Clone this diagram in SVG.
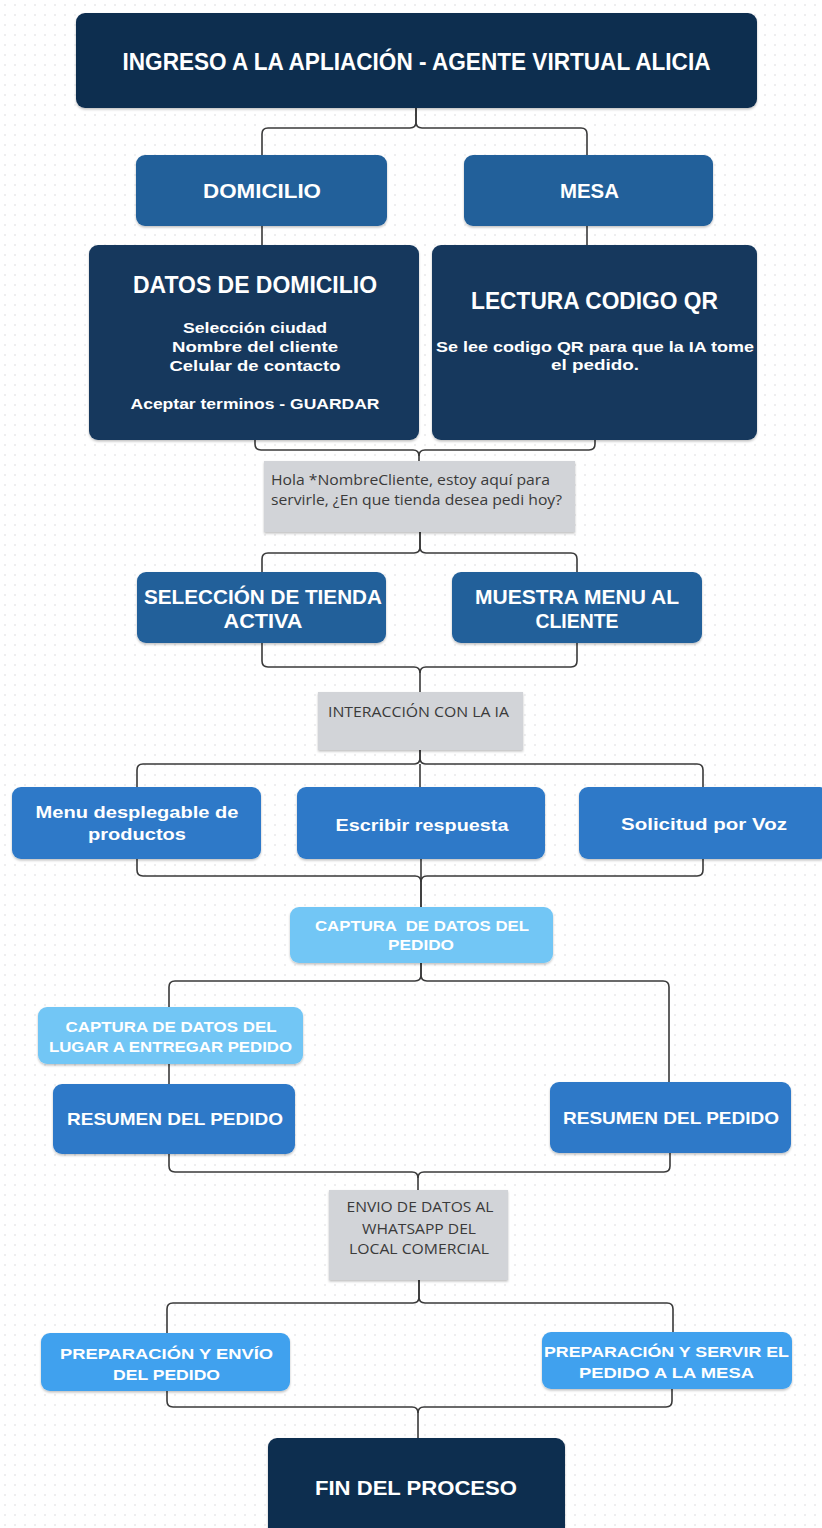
<svg xmlns="http://www.w3.org/2000/svg" width="822" height="1528" viewBox="0 0 822 1528">
<defs>
<pattern id="dots" x="0" y="0" width="10" height="10" patternUnits="userSpaceOnUse">
<circle cx="5" cy="5" r="0.9" fill="#e6e6e8"/>
</pattern>
<filter id="sh" x="-5%" y="-5%" width="110%" height="115%">
<feDropShadow dx="0" dy="1.5" stdDeviation="1.2" flood-color="#000" flood-opacity="0.25"/>
</filter>
</defs>
<style>
.navy{fill:#112f50;}
.navy2{fill:#15385d;}
.mid{fill:#22609a;}
.blue{fill:#2d79c8;}
.light{fill:#72c6f5;}
.bright{fill:#40a1ee;}
.sticky{fill:#d2d4d8;}
.h{font-family:"Liberation Sans",Arial,sans-serif;font-weight:bold;fill:#ffffff;text-anchor:middle;}
.b{font-family:"Liberation Sans",Arial,sans-serif;font-weight:bold;fill:#ffffff;text-anchor:middle;}
.s{font-family:"Open Sans","Liberation Sans",sans-serif;fill:#3a3a3a;}
.c{fill:none;stroke:#3a3a3a;stroke-width:1.6;}
.pre{white-space:pre;}
</style>
<rect width="822" height="1528" fill="#ffffff"/>
<rect width="822" height="1528" fill="url(#dots)"/>

<g id="connectors">
<path class="c" d="M416,108 V122 Q416,128 410,128 H268 Q262,128 262,134 V155"/>
<path class="c" d="M416,108 V122 Q416,128 422,128 H581 Q587,128 587,134 V155"/>
<path class="c" d="M262,226 V252 Q262,256 258,256 Q256,256 256,253"/>
<path class="c" d="M587,226 V246"/>
<path class="c" d="M255,440 V444 Q255,450 261,450 H413 Q419,450 419,456 V462"/>
<path class="c" d="M595,440 V444 Q595,450 589,450 H425 Q419,450 419,456"/>
<path class="c" d="M420,532 V547 Q420,553 414,553 H268 Q262,553 262,559 V572"/>
<path class="c" d="M420,532 V547 Q420,553 426,553 H571 Q577,553 577,559 V572"/>
<path class="c" d="M262,643 V661 Q262,667 268,667 H414 Q420,667 420,673 V693"/>
<path class="c" d="M577,643 V661 Q577,667 571,667 H426 Q420,667 420,673"/>
<path class="c" d="M420,750 V758 Q420,764 414,764 H143 Q137,764 137,770 V787"/>
<path class="c" d="M420,750 V758 Q420,764 426,764 H697 Q703,764 703,770 V787"/>
<path class="c" d="M420,764 V787"/>
<path class="c" d="M137,859 V870 Q137,876 143,876 H415 Q421,876 421,882 V907"/>
<path class="c" d="M703,859 V870 Q703,876 697,876 H427 Q421,876 421,882"/>
<path class="c" d="M421,859 V907"/>
<path class="c" d="M421,963 V975 Q421,981 415,981 H175 Q169,981 169,987 V1007"/>
<path class="c" d="M421,963 V975 Q421,981 427,981 H663 Q669,981 669,987 V1082"/>
<path class="c" d="M169,1064 V1084"/>
<path class="c" d="M169,1154 V1166 Q169,1172 175,1172 H412 Q418,1172 418,1178 V1190"/>
<path class="c" d="M670,1153 V1166 Q670,1172 664,1172 H424 Q418,1172 418,1178"/>
<path class="c" d="M419,1280 V1297 Q419,1303 413,1303 H173 Q167,1303 167,1309 V1333"/>
<path class="c" d="M419,1280 V1297 Q419,1303 425,1303 H667 Q673,1303 673,1309 V1332"/>
<path class="c" d="M167,1391 V1401 Q167,1407 173,1407 H412 Q418,1407 418,1413 V1438"/>
<path class="c" d="M672,1389 V1401 Q672,1407 666,1407 H424 Q418,1407 418,1413"/>
</g>

<g id="n-ingreso">
<rect class="navy" x="76" y="13" width="681" height="95" rx="9" filter="url(#sh)"/>
<text class="h" x="416.5" y="70" font-size="23" textLength="588" lengthAdjust="spacingAndGlyphs">INGRESO A LA APLIACIÓN - AGENTE VIRTUAL ALICIA</text>
</g>

<g id="n-domicilio">
<rect class="mid" x="136" y="155" width="251" height="71" rx="9" filter="url(#sh)"/>
<text class="h" x="262" y="198" font-size="20" textLength="118" lengthAdjust="spacingAndGlyphs">DOMICILIO</text>
</g>

<g id="n-mesa">
<rect class="mid" x="464" y="155" width="249" height="71" rx="9" filter="url(#sh)"/>
<text class="h" x="589.5" y="198" font-size="20" textLength="59" lengthAdjust="spacingAndGlyphs">MESA</text>
</g>

<g id="n-datos">
<rect class="navy2" x="89" y="245" width="330" height="195" rx="9" filter="url(#sh)"/>
<text class="h" x="255" y="293" font-size="23" textLength="244" lengthAdjust="spacingAndGlyphs">DATOS DE DOMICILIO</text>
<text class="b" x="255" y="333" font-size="15" textLength="144" lengthAdjust="spacingAndGlyphs">Selección ciudad</text>
<text class="b" x="255" y="352" font-size="15" textLength="166" lengthAdjust="spacingAndGlyphs">Nombre del cliente</text>
<text class="b" x="255" y="371" font-size="15" textLength="171" lengthAdjust="spacingAndGlyphs">Celular de contacto</text>
<text class="b" x="255" y="409" font-size="15" textLength="249" lengthAdjust="spacingAndGlyphs">Aceptar terminos - GUARDAR</text>
</g>

<g id="n-lectura">
<rect class="navy2" x="432" y="245" width="325" height="195" rx="9" filter="url(#sh)"/>
<text class="h" x="594.5" y="309" font-size="23" textLength="247" lengthAdjust="spacingAndGlyphs">LECTURA CODIGO QR</text>
<text class="b" x="595" y="352" font-size="15" textLength="318" lengthAdjust="spacingAndGlyphs">Se lee codigo QR para que la IA tome</text>
<text class="b" x="595" y="370" font-size="15" textLength="88" lengthAdjust="spacingAndGlyphs">el pedido.</text>
</g>

<g id="n-hola">
<rect class="sticky" x="264" y="461" width="311" height="71" filter="url(#sh)"/>
<text class="s" x="271" y="485" font-size="14" textLength="279" lengthAdjust="spacingAndGlyphs">Hola *NombreCliente, estoy aquí para</text>
<text class="s" x="271" y="505" font-size="14" textLength="291" lengthAdjust="spacingAndGlyphs">servirle, ¿En que tienda desea pedi hoy?</text>
</g>

<g id="n-seleccion">
<rect class="mid" x="137" y="572" width="249" height="71" rx="9" filter="url(#sh)"/>
<text class="h" x="263" y="604" font-size="20" textLength="238" lengthAdjust="spacingAndGlyphs">SELECCIÓN DE TIENDA</text>
<text class="h" x="263" y="628" font-size="20" textLength="79" lengthAdjust="spacingAndGlyphs">ACTIVA</text>
</g>

<g id="n-muestra">
<rect class="mid" x="452" y="572" width="250" height="71" rx="9" filter="url(#sh)"/>
<text class="h" x="577" y="604" font-size="20" textLength="204" lengthAdjust="spacingAndGlyphs">MUESTRA MENU AL</text>
<text class="h" x="577" y="628" font-size="20" textLength="83" lengthAdjust="spacingAndGlyphs">CLIENTE</text>
</g>

<g id="n-interaccion">
<rect class="sticky" x="318" y="692" width="205" height="58" filter="url(#sh)"/>
<text class="s" x="328" y="717" font-size="14" textLength="181" lengthAdjust="spacingAndGlyphs">INTERACCIÓN CON LA IA</text>
</g>

<g id="n-menu">
<rect class="blue" x="12" y="787" width="249" height="72" rx="9" filter="url(#sh)"/>
<text class="b" x="137" y="818" font-size="16.5" textLength="203" lengthAdjust="spacingAndGlyphs">Menu desplegable de</text>
<text class="b" x="137" y="840" font-size="16.5" textLength="98" lengthAdjust="spacingAndGlyphs">productos</text>
</g>

<g id="n-escribir">
<rect class="blue" x="297" y="787" width="248" height="72" rx="9" filter="url(#sh)"/>
<text class="b" x="422" y="831" font-size="16.5" textLength="173" lengthAdjust="spacingAndGlyphs">Escribir respuesta</text>
</g>

<g id="n-voz">
<rect class="blue" x="579" y="787" width="250" height="72" rx="9" filter="url(#sh)"/>
<text class="b" x="704" y="830" font-size="16.5" textLength="166" lengthAdjust="spacingAndGlyphs">Solicitud por Voz</text>
</g>

<g id="n-captura">
<rect class="light" x="290" y="907" width="263" height="56" rx="9" filter="url(#sh)"/>
<text class="b pre" x="422" y="931" font-size="14.5" textLength="214" lengthAdjust="spacingAndGlyphs">CAPTURA  DE DATOS DEL</text>
<text class="b" x="421" y="950" font-size="14.5" textLength="66" lengthAdjust="spacingAndGlyphs">PEDIDO</text>
</g>

<g id="n-lugar">
<rect class="light" x="38" y="1007" width="265" height="57" rx="9" filter="url(#sh)"/>
<text class="b" x="171" y="1032" font-size="14.5" textLength="211" lengthAdjust="spacingAndGlyphs">CAPTURA DE DATOS DEL</text>
<text class="b" x="170.5" y="1052" font-size="14.5" textLength="243" lengthAdjust="spacingAndGlyphs">LUGAR A ENTREGAR PEDIDO</text>
</g>

<g id="n-resumen1">
<rect class="blue" x="53" y="1084" width="242" height="70" rx="9" filter="url(#sh)"/>
<text class="b" x="175" y="1125" font-size="17" textLength="216" lengthAdjust="spacingAndGlyphs">RESUMEN DEL PEDIDO</text>
</g>

<g id="n-resumen2">
<rect class="blue" x="550" y="1082" width="241" height="71" rx="9" filter="url(#sh)"/>
<text class="b" x="671" y="1124" font-size="17" textLength="216" lengthAdjust="spacingAndGlyphs">RESUMEN DEL PEDIDO</text>
</g>

<g id="n-envio">
<rect class="sticky" x="329" y="1190" width="179" height="90" filter="url(#sh)"/>
<text class="s" x="420" y="1212" font-size="14" text-anchor="middle" textLength="147" lengthAdjust="spacingAndGlyphs">ENVIO DE DATOS AL</text>
<text class="s" x="419" y="1234" font-size="14" text-anchor="middle" textLength="114" lengthAdjust="spacingAndGlyphs">WHATSAPP DEL</text>
<text class="s" x="419" y="1254" font-size="14" text-anchor="middle" textLength="140" lengthAdjust="spacingAndGlyphs">LOCAL COMERCIAL</text>
</g>

<g id="n-prep1">
<rect class="bright" x="41" y="1333" width="249" height="58" rx="9" filter="url(#sh)"/>
<text class="b" x="166.5" y="1359" font-size="15" textLength="213" lengthAdjust="spacingAndGlyphs">PREPARACIÓN Y ENVÍO</text>
<text class="b" x="166.5" y="1380" font-size="15" textLength="107" lengthAdjust="spacingAndGlyphs">DEL PEDIDO</text>
</g>

<g id="n-prep2">
<rect class="bright" x="542" y="1332" width="250" height="57" rx="9" filter="url(#sh)"/>
<text class="b" x="666.5" y="1357" font-size="15" textLength="245" lengthAdjust="spacingAndGlyphs">PREPARACIÓN Y SERVIR EL</text>
<text class="b" x="666.5" y="1378" font-size="15" textLength="175" lengthAdjust="spacingAndGlyphs">PEDIDO A LA MESA</text>
</g>

<g id="n-fin">
<rect class="navy" x="268" y="1438" width="297" height="110" rx="9" filter="url(#sh)"/>
<text class="h" x="416" y="1495" font-size="21" textLength="202" lengthAdjust="spacingAndGlyphs">FIN DEL PROCESO</text>
</g>
</svg>
